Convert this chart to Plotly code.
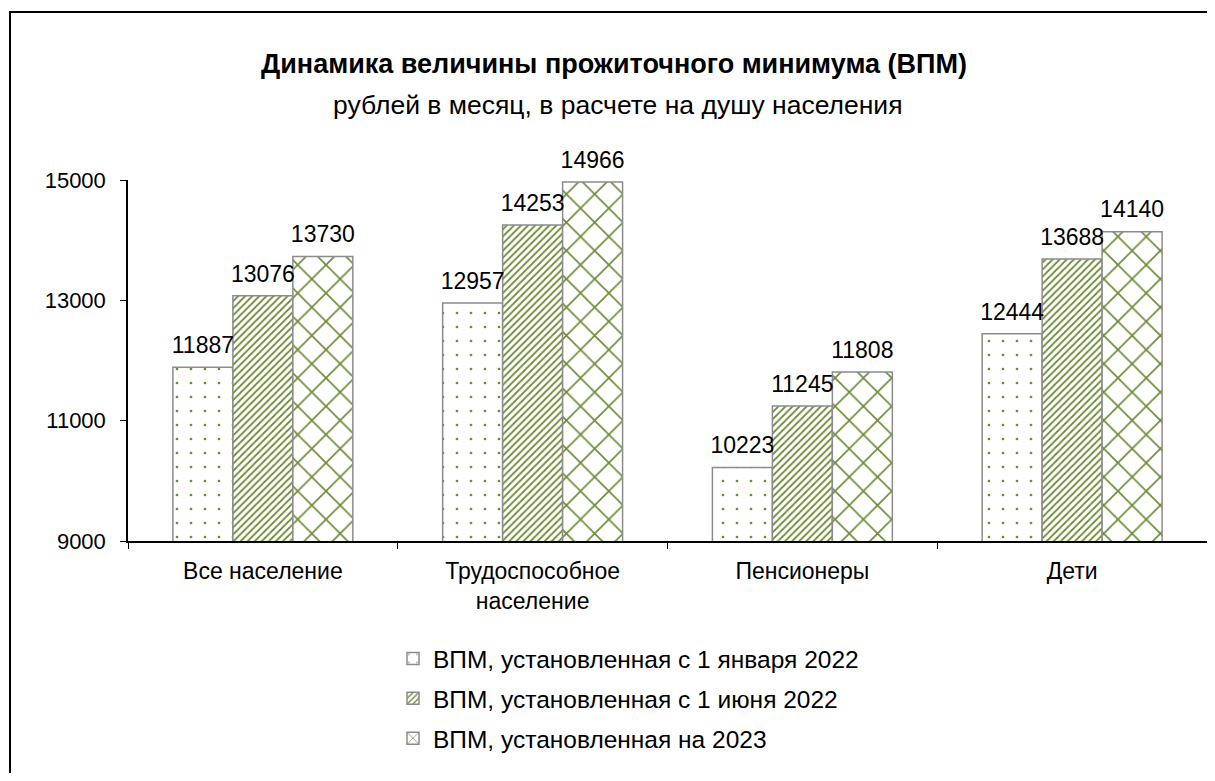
import plotly.graph_objects as go

categories = ["Все население", "Трудоспособное<br>население", "Пенсионеры", "Дети"]
series_names = [
    "ВПМ, установленная с 1 января 2022",
    "ВПМ, установленная с 1 июня 2022",
    "ВПМ, установленная на 2023",
]
values_jan2022 = [11887, 12957, 10223, 12444]
values_jun2022 = [13076, 14253, 11245, 13688]
values_2023 = [13730, 14966, 11808, 14140]
y_ticks = [9000, 11000, 13000, 15000]

FONT = "Arial, Liberation Sans, sans-serif"
GREEN = "#6E8C38"
series_values = [values_jan2022, values_jun2022, values_2023]
pattern_styles = [
    dict(shape=".", size=14, solidity=0.03),
    dict(shape="/", size=5, solidity=0.36),
    dict(shape="x", size=20, solidity=0.16),
]

# browser page has an 8px body margin; work in screenshot pixels
OFF = 8
W, H = 1199, 765
PLOT_L, PLOT_R, PLOT_T, PLOT_B = 128, 1207, 180, 541  # screenshot px
L = PLOT_L - OFF
R = W - (PLOT_R - OFF)
T = PLOT_T - OFF
B = H - (PLOT_B - OFF)
PW, PH = PLOT_R - PLOT_L, PLOT_B - PLOT_T

def px_x(x):
    return (x - PLOT_L) / PW

def px_y(y):
    return (PLOT_B - y) / PH

fig = go.Figure()
for i, (name, vals) in enumerate(zip(series_names, series_values)):
    fig.add_trace(go.Bar(
        x=categories, y=vals, name=name,
        legendgroup=f"g{i}", offsetgroup=f"o{i}",
        marker=dict(
            color="white",
            line=dict(color="#8C8C8C", width=1.5),
            pattern=dict(fgcolor=GREEN, bgcolor="white", fgopacity=1,
                         **pattern_styles[i]),
        ),
        hoverinfo="x+y",
    ))
for i, vals in enumerate(series_values):
    fig.add_trace(go.Scatter(
        x=categories, y=vals, mode="markers+text",
        text=[str(v) for v in vals], textposition="top center",
        textfont=dict(family=FONT, size=23, color="black"),
        marker=dict(size=12, color="rgba(0,0,0,0)"),
        offsetgroup=f"o{i}", showlegend=False, cliponaxis=False,
        hoverinfo="skip",
    ))

fig.update_layout(
    width=W, height=H,
    margin=dict(l=L, r=R, t=T, b=B, autoexpand=False),
    paper_bgcolor="white", plot_bgcolor="white",
    font=dict(family=FONT, size=22, color="black"),
    barmode="group", bargap=0.333, bargroupgap=0,
    scattermode="group", scattergap=0.333,
    showlegend=True,
    legend=dict(
        x=px_x(393), xanchor="left", y=px_y(636), yanchor="top",
        font=dict(family=FONT, size=24.5, color="black"),
        tracegroupgap=5, bgcolor="rgba(0,0,0,0)",
    ),
    xaxis=dict(
        showline=True, linecolor="black", linewidth=1.5,
        ticks="outside", tickson="boundaries", ticklen=6, tickcolor="black",
        tickfont=dict(family=FONT, size=23, color="black"),
        ticklabelstandoff=9,
        showgrid=False,
    ),
    yaxis=dict(
        range=[9000, 15000], tickvals=y_ticks, ticktext=[str(v) for v in y_ticks],
        showline=True, linecolor="black", linewidth=1.5,
        ticks="outside", ticklen=6, tickcolor="black",
        tickfont=dict(family=FONT, size=22, color="black"),
        ticklabelstandoff=10,
        showgrid=False, zeroline=False,
    ),
    annotations=[
        dict(text="<b>Динамика величины прожиточного минимума (ВПМ)</b>",
             xref="paper", yref="paper", x=px_x(614), y=px_y(64),
             xanchor="center", yanchor="middle", showarrow=False,
             font=dict(family=FONT, size=27, color="black")),
        dict(text="рублей в месяц, в расчете на душу населения",
             xref="paper", yref="paper", x=px_x(618), y=px_y(105),
             xanchor="center", yanchor="middle", showarrow=False,
             font=dict(family=FONT, size=26.5, color="black")),
    ],
    shapes=[
        dict(type="rect", xref="paper", yref="paper",
             x0=px_x(10), y0=px_y(820), x1=px_x(1260), y1=px_y(12),
             line=dict(color="black", width=2), fillcolor="rgba(0,0,0,0)",
             layer="below"),
    ],
)

fig.write_html("out.html")
